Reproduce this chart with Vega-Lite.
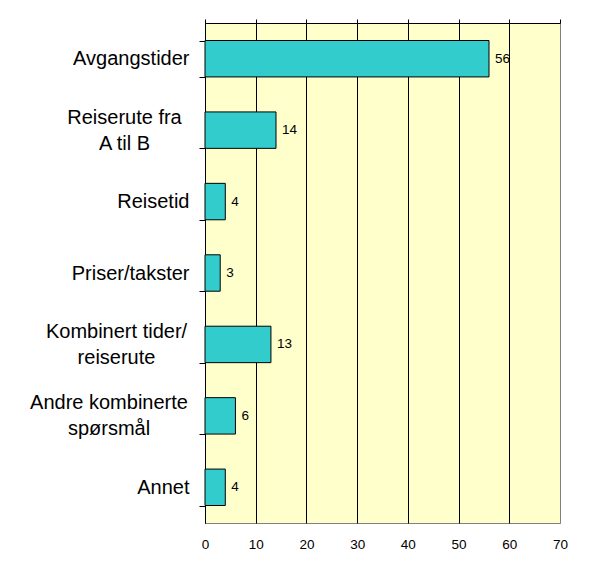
{
  "$schema": "https://vega.github.io/schema/vega-lite/v6.json",
  "width": 355,
  "height": 500,
  "autosize": {"type": "none"},
  "padding": {"left": 205, "top": 23, "right": 33, "bottom": 49},
  "background": "white",
  "config": {
    "font": "Liberation Sans",
    "view": {"fill": "#FFFFCC", "stroke": "#808080", "strokeWidth": 1}
  },
  "data": {
    "values": [
      {"kategori": "Avgangstider", "antall": 56},
      {"kategori": "Reiserute fra\nA til B", "antall": 14},
      {"kategori": "Reisetid", "antall": 4},
      {"kategori": "Priser/takster", "antall": 3},
      {"kategori": "Kombinert tider/\nreiserute", "antall": 13},
      {"kategori": "Andre kombinerte\nspørsmål", "antall": 6},
      {"kategori": "Annet", "antall": 4}
    ]
  },
  "encoding": {
    "y": {
      "field": "kategori",
      "type": "nominal",
      "sort": null,
      "scale": {"paddingInner": 0.49, "paddingOuter": 0.245},
      "axis": {
        "title": null,
        "domainColor": "#000000",
        "tickColor": "#000000",
        "tickSize": 6,
        "tickBand": "extent",
        "labelFontSize": 20,
        "labelColor": "#000000",
        "labelLineHeight": 26,
        "labelLimit": 300,
        "labelExpr": "split(datum.label, '\\n')",
        "labelAlign": {
          "condition": {"test": "length(split(datum.value, '\\n')) > 1", "value": "center"},
          "value": "right"
        },
        "labelOffset": {
          "condition": {"test": "length(split(datum.value, '\\n')) > 1", "value": -13},
          "value": 0
        },
        "labelPadding": {
          "condition": [
            {"test": "split(datum.value, '\\n')[0] === 'Reiserute fra'", "value": 75},
            {"test": "split(datum.value, '\\n')[0] === 'Kombinert tider/'", "value": 83},
            {"test": "split(datum.value, '\\n')[0] === 'Andre kombinerte'", "value": 90.5}
          ],
          "value": 10
        }
      }
    }
  },
  "resolve": {"axis": {"x": "independent"}},
  "layer": [
    {
      "mark": {"type": "bar", "fill": "#33CCCC", "stroke": "#000000", "strokeWidth": 1},
      "encoding": {
        "x": {
          "field": "antall",
          "type": "quantitative",
          "scale": {"domain": [0, 70], "nice": false},
          "axis": {
            "orient": "bottom",
            "title": null,
            "values": [0, 10, 20, 30, 40, 50, 60, 70],
            "domain": false,
            "ticks": false,
            "grid": true,
            "gridColor": {"condition": {"test": "datum.value === 70", "value": "#808080"}, "value": "#000000"},
            "gridOpacity": 1,
            "gridWidth": 1,
            "labelFontSize": 13.5,
            "labelColor": "#000000",
            "labelPadding": 14,
            "labelFlush": false
          }
        }
      }
    },
    {
      "mark": {"type": "text", "align": "left", "baseline": "middle", "dx": 6, "fontSize": 13.5, "color": "#000000"},
      "encoding": {
        "x": {
          "field": "antall",
          "type": "quantitative",
          "axis": {
            "orient": "top",
            "title": null,
            "values": [0, 10, 20, 30, 40, 50, 60, 70],
            "labels": false,
            "grid": false,
            "domainColor": "#000000",
            "tickColor": "#000000",
            "tickSize": 4
          }
        },
        "text": {"field": "antall", "type": "quantitative"}
      }
    }
  ]
}
